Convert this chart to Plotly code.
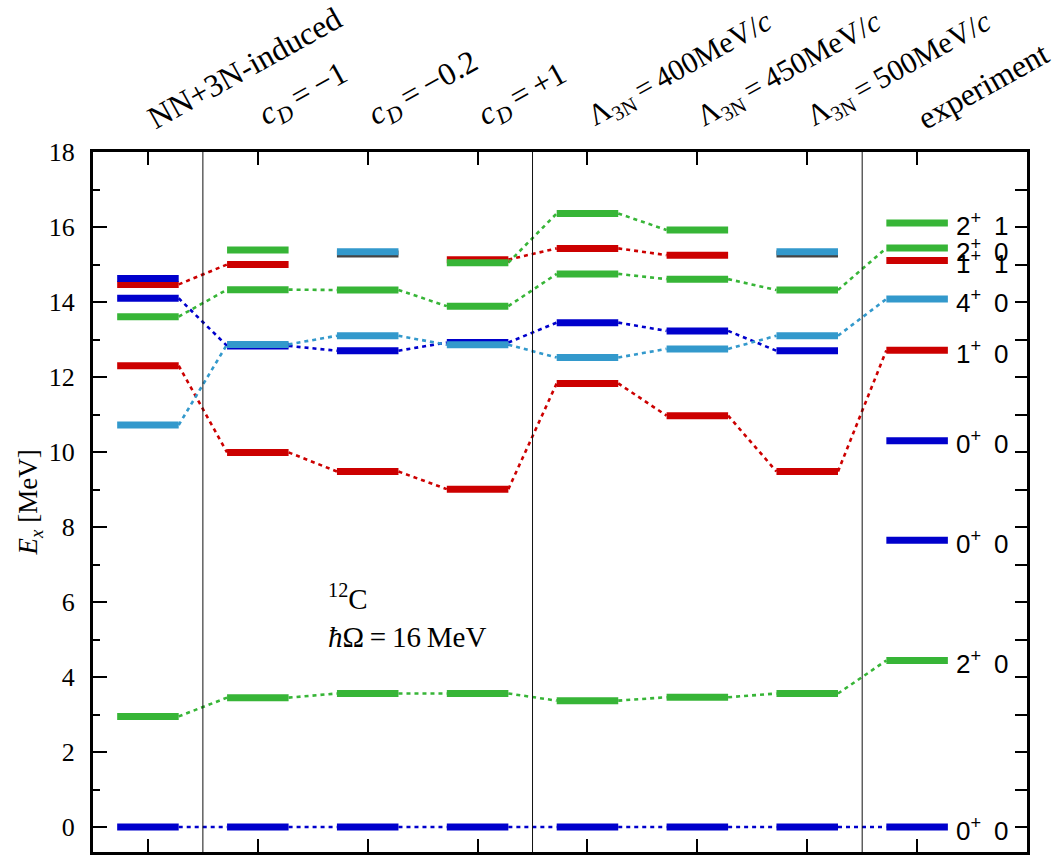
import plotly.graph_objects as go

# ---- data ----
TS = "\u2009"  # thin space
columns = [
    "NN+3N-induced",
    f"<i>c<sub>D</sub></i>{TS}={TS}−1",
    f"<i>c<sub>D</sub></i>{TS}={TS}−0.2",
    f"<i>c<sub>D</sub></i>{TS}={TS}+1",
    f"Λ<sub>3N</sub>{TS}={TS}400MeV/<i>c</i>",
    f"Λ<sub>3N</sub>{TS}={TS}450MeV/<i>c</i>",
    f"Λ<sub>3N</sub>{TS}={TS}500MeV/<i>c</i>",
    "experiment",
]
label_sizes = [32, 32, 32, 32, 30, 30, 30, 32]

ground_0p0 = [0.00, 0.00, 0.00, 0.00, 0.00, 0.00, 0.00, 0.00]
first_2p0 = [2.95, 3.45, 3.56, 3.56, 3.37, 3.46, 3.56, 4.44]
red_1p0 = [12.30, 9.99, 9.48, 9.01, 11.83, 10.97, 9.48, 12.71]
lblue_4p0 = [10.72, 12.87, 13.10, 12.86, 12.52, 12.75, 13.10, 14.08]
blue_0p0b = [14.10, 12.83, 12.70, 12.92, 13.45, 13.23, 12.70, None]
green_2p0b = [13.61, 14.33, 14.32, 13.89, 14.75, 14.61, 14.32, 15.44]
red_1p1 = [14.47, 15.00, None, 15.13, 15.43, 15.25, None, 15.11]
green_2p1 = [None, 15.39, None, 15.05, 16.36, 15.92, None, 16.11]
blue_0p0c = [14.63, None, None, None, None, None, None, 10.30]
blue_0p0d = [None, None, None, None, None, None, None, 7.65]
lblue_extra = [None, None, 15.34, None, None, None, 15.34, None]
dark_extra = [None, None, 15.28, None, None, None, 15.28, None]

exp_energy = [16.11, 15.44, 15.11, 14.08, 12.71, 10.30, 7.65, 4.44, 0.00]
exp_J = ["2", "2", "1", "4", "1", "0", "0", "2", "0"]
exp_P = ["+", "+", "+", "+", "+", "+", "+", "+", "+"]
exp_T = ["1", "0", "1", "0", "0", "0", "0", "0", "0"]

GREEN = "#37b537"
RED = "#cc0000"
BLUE = "#0000cc"
LBLUE = "#3399cc"
DARK = "#444444"

HALF = 0.28

# drawing order (bottom -> top)
tracks = [
    (dark_extra, DARK),
    (red_1p0, RED),
    (red_1p1, RED),
    (ground_0p0, BLUE),
    (blue_0p0b, BLUE),
    (blue_0p0c, BLUE),
    (blue_0p0d, BLUE),
    (first_2p0, GREEN),
    (green_2p0b, GREEN),
    (green_2p1, GREEN),
    (lblue_4p0, LBLUE),
    (lblue_extra, LBLUE),
]


def bar_xy(vals):
    xs, ys = [], []
    for i, v in enumerate(vals):
        if v is None:
            continue
        xs += [i - HALF, i + HALF, None]
        ys += [v, v, None]
    return xs, ys


def link_xy(vals):
    xs, ys = [], []
    for i in range(len(vals) - 1):
        a, b = vals[i], vals[i + 1]
        if a is None or b is None:
            continue
        xs += [i + HALF, i + 1 - HALF, None]
        ys += [a, b, None]
    return xs, ys


fig = go.Figure()

# connecting dotted lines
for vals, col in tracks:
    xs, ys = link_xy(vals)
    if xs:
        fig.add_trace(go.Scatter(x=xs, y=ys, mode="lines",
                                 line=dict(color=col, width=2.6, dash="4px,4px"),
                                 hoverinfo="skip", showlegend=False))

# level bars
for vals, col in tracks:
    xs, ys = bar_xy(vals)
    fig.add_trace(go.Scatter(x=xs, y=ys, mode="lines",
                             line=dict(color=col, width=7),
                             hoverinfo="skip", showlegend=False))

# helper trace for right-side axis ticks
fig.add_trace(go.Scatter(x=[None], y=[None], yaxis="y2", showlegend=False,
                         hoverinfo="skip"))

YMIN, YMAX = -2.0 / 3.0, 18.0

shapes = []
for xv in [0.5, 3.5, 6.5]:
    shapes.append(dict(type="line", xref="x", yref="paper", x0=xv, x1=xv,
                       y0=0, y1=1, line=dict(color="#111111", width=1)))

annotations = []
for i, (lab, fs) in enumerate(zip(columns, label_sizes)):
    annotations.append(dict(x=i, y=1, xref="x", yref="paper", text=lab,
                            showarrow=False, textangle=-29,
                            xanchor="left", yanchor="bottom",
                            xshift=-9, yshift=13,
                            font=dict(family="Liberation Serif", size=fs,
                                      color="black")))

lab_font = dict(family="Liberation Sans", size=26, color="black")
for e, J, P, T in zip(exp_energy, exp_J, exp_P, exp_T):
    annotations.append(dict(x=7 + HALF, y=e, xref="x", yref="y",
                            text=f"{J}<sup>{P}</sup>\u2002{T}",
                            showarrow=False,
                            xanchor="left", yanchor="middle", xshift=6,
                            yshift=-2, font=lab_font))

annotations.append(dict(x=1.62, y=5.63, xref="x", yref="y",
                        text=f"<sup>12</sup>C<br><i>ħ</i>Ω{TS}={TS}16{TS}MeV",
                        showarrow=False,
                        xanchor="left", yanchor="middle", align="left",
                        font=dict(family="Liberation Serif", size=29,
                                  color="black")))

annotations.append(dict(x=-0.067, y=0.5, xref="paper", yref="paper",
                        xanchor="center", yanchor="middle",
                        text="<i>E<sub>x</sub></i> [MeV]", showarrow=False,
                        textangle=-90,
                        font=dict(family="Liberation Serif", size=27,
                                  color="black")))

fig.update_layout(
    width=1058, height=858,
    margin=dict(l=93, r=31, t=152, b=6),
    paper_bgcolor="white", plot_bgcolor="white",
    shapes=shapes, annotations=annotations,
    xaxis=dict(range=[-0.5, 8.0], tickvals=list(range(8)), ticks="inside",
               ticklen=13, tickwidth=2, tickcolor="black",
               showticklabels=False, showgrid=False, zeroline=False,
               showline=True, linewidth=2.5, linecolor="black",
               mirror="ticks"),
    yaxis=dict(range=[YMIN, YMAX], tick0=0, dtick=2, ticks="inside",
               ticklen=14, tickwidth=2, tickcolor="black",
               minor=dict(dtick=1, tick0=0, ticks="inside", ticklen=7,
                          tickwidth=2, tickcolor="black", showgrid=False),
               showgrid=False, zeroline=False, showline=True, linewidth=2.5,
               linecolor="black", mirror=True, ticksuffix="\u2009\u2009",
               tickfont=dict(family="Liberation Serif", size=26,
                             color="black")),
    yaxis2=dict(range=[YMIN, YMAX], overlaying="y", side="right",
                tick0=0, dtick=1, ticks="inside", ticklen=12, tickwidth=2,
                tickcolor="black", showticklabels=False, showgrid=False,
                zeroline=False, showline=False),
)

fig.write_html("out.html")
